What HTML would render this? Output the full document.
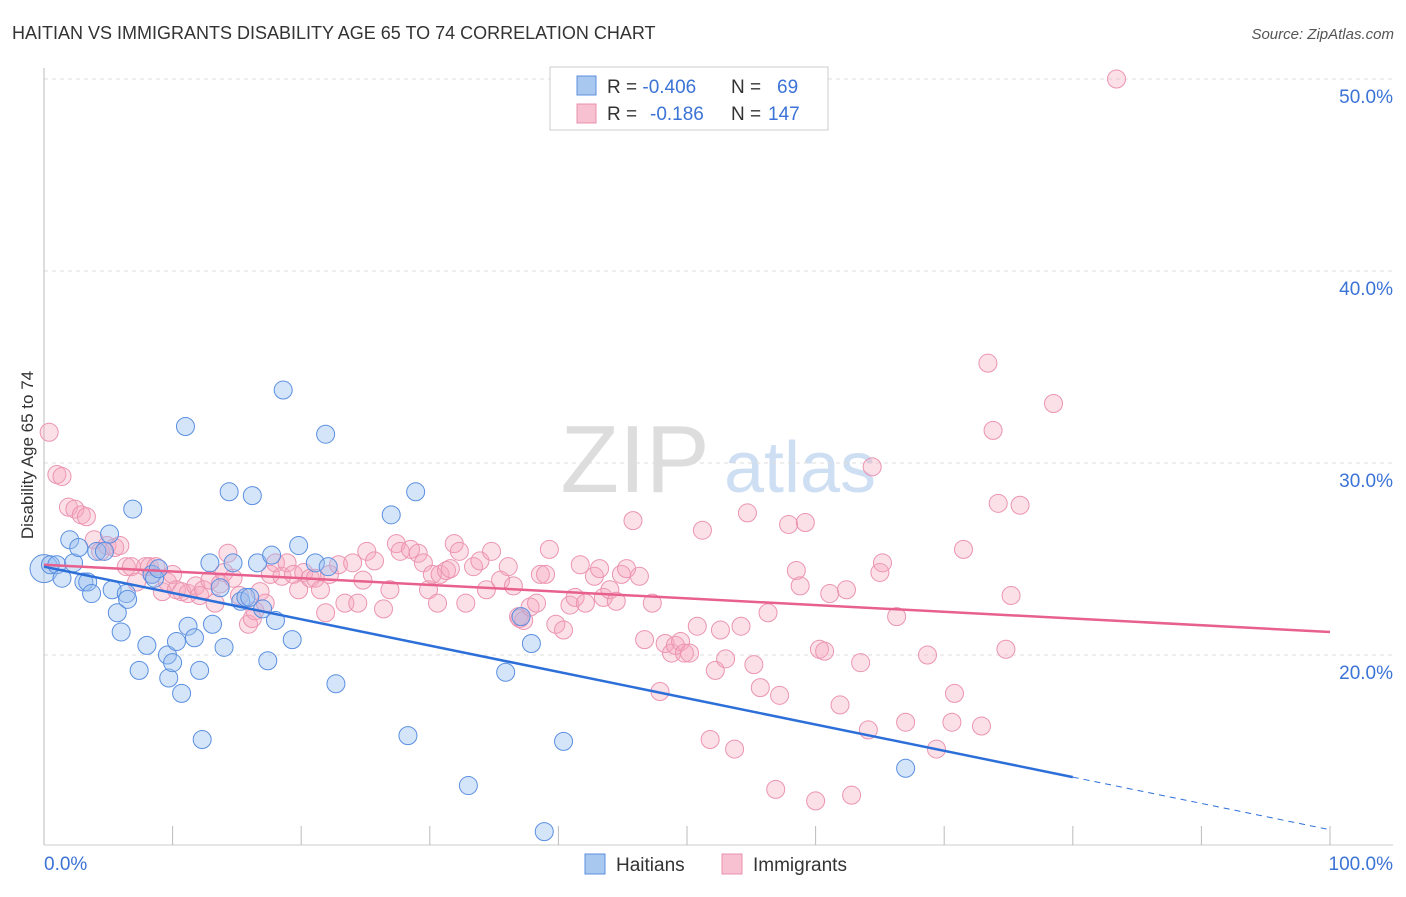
<!DOCTYPE html>
<html><head><meta charset="utf-8"><style>
body{margin:0;background:#fff;font-family:"Liberation Sans",sans-serif;}
svg text{font-family:"Liberation Sans",sans-serif;}
</style></head><body>
<svg id="chart" width="1406" height="892" xmlns="http://www.w3.org/2000/svg">
<text x="12" y="39" font-size="18" fill="#333">HAITIAN VS IMMIGRANTS DISABILITY AGE 65 TO 74 CORRELATION CHART</text>
<text x="1394" y="39" font-size="15" fill="#555" text-anchor="end" font-style="italic">Source: ZipAtlas.com</text>
<text transform="translate(33,455) rotate(-90)" font-size="17" fill="#333" text-anchor="middle">Disability Age 65 to 74</text>
<g><text x="635" y="492" font-size="96" fill="#ddd" font-family="Liberation Serif" text-anchor="middle">ZIP</text><text x="800" y="492" font-size="72" fill="#cfdff3" text-anchor="middle">atlas</text></g>
<g id="grid"></g><g id="axes"></g><g id="pts"></g><g id="trend"></g>
<g>
<rect x="550" y="67" width="278" height="63" fill="#fff" stroke="#ccc"/>
<rect x="577" y="76" width="19" height="19" fill="#a9c8f0" stroke="#5b8fe0"/>
<rect x="577" y="104" width="19" height="19" fill="#f7c1d2" stroke="#e890ac"/>
<text x="607" y="93" font-size="19" fill="#333">R = <tspan fill="#3b73d6">-0.406</tspan><tspan x="731">N = </tspan><tspan x="777" fill="#3b73d6">69</tspan></text>
<text x="607" y="120" font-size="19" fill="#333">R = <tspan x="650" fill="#3b73d6">-0.186</tspan><tspan x="731">N = </tspan><tspan x="768" fill="#3b73d6">147</tspan></text>
</g>
<g>
<rect x="585" y="854" width="20" height="20" fill="#a9c8f0" stroke="#5b8fe0"/>
<text x="616" y="871" font-size="19" fill="#333">Haitians</text>
<rect x="722" y="854" width="20" height="20" fill="#f7c1d2" stroke="#e890ac"/>
<text x="753" y="871" font-size="19" fill="#333">Immigrants</text>
</g>
</svg>
<script>
const yTicks=[20,30,40,50];
const yTickLabels=["20.0%","30.0%","40.0%","50.0%"];
const xTickVals=[0,10,20,30,40,50,60,70,80,90,100];
const xLabels=["0.0%","100.0%"];
const haitiansX=[0,0.5,1.0,1.4,2.0,2.3,2.7,3.1,3.4,3.7,4.1,4.7,5.1,5.3,5.7,6.0,6.4,6.5,6.9,7.4,8.0,8.4,8.6,8.9,9.6,9.7,10.0,10.3,10.7,11.0,11.2,11.7,12.1,12.3,12.9,13.1,13.7,14.0,14.4,14.7,15.3,15.7,16.0,16.2,16.6,17.0,17.4,17.7,18.0,18.6,19.3,19.8,21.1,21.9,22.1,22.7,27.0,28.3,28.9,33.0,35.9,37.1,37.9,38.9,40.4,67.0];
const haitiansY=[24.5,24.7,24.7,24.0,26.0,24.8,25.6,23.8,23.8,23.2,25.4,25.4,26.3,23.4,22.2,21.2,23.2,22.9,27.6,19.2,20.5,24.2,24.0,24.5,20.0,18.8,19.6,20.7,18.0,31.9,21.5,20.9,19.2,15.6,24.8,21.6,23.5,20.4,28.5,24.8,22.8,23.0,23.0,28.3,24.8,22.4,19.7,25.2,21.8,33.8,20.8,25.7,24.8,31.5,24.6,18.5,27.3,15.8,28.5,13.2,19.1,22.0,20.6,10.8,15.5,14.1];
const immigrantsX=[0.4,1.0,1.4,1.9,2.4,2.9,3.3,3.9,4.4,4.9,5.5,5.9,6.4,6.8,7.2,7.9,8.2,8.4,8.7,9.2,9.6,10.0,10.3,10.7,11.2,11.8,12.1,12.4,12.9,13.3,13.7,14.0,14.3,14.7,15.2,15.9,16.2,16.4,16.8,17.2,17.6,18.0,18.5,18.9,19.4,19.8,20.2,20.7,21.1,21.5,21.9,22.2,22.9,23.4,24.0,24.4,24.8,25.1,25.7,26.4,26.9,27.4,27.7,28.5,29.1,29.5,29.9,30.2,30.6,30.8,31.3,31.6,31.9,32.3,32.8,33.4,33.9,34.4,34.8,35.5,36.1,36.5,36.9,37.0,37.3,37.8,38.3,38.6,39.0,39.3,39.8,40.4,40.9,41.3,41.7,42.1,42.8,43.2,43.5,44.0,44.5,44.9,45.3,45.8,46.3,46.7,47.3,47.9,48.3,48.8,49.1,49.5,49.8,50.2,50.8,51.2,51.8,52.2,52.6,53.0,53.7,54.2,54.7,55.2,55.7,56.3,56.9,57.2,57.9,58.5,58.8,59.2,60.0,60.3,60.7,61.1,61.9,62.4,62.8,63.5,64.1,64.4,65.0,65.2,66.3,67.0,68.7,69.4,70.6,70.8,71.5,72.9,73.4,73.8,74.2,74.8,75.2,75.9,78.5,83.4];
const immigrantsY=[31.6,29.4,29.3,27.7,27.6,27.3,27.2,26.0,25.4,25.7,25.6,25.7,24.6,24.6,23.8,24.6,24.6,24.2,24.6,23.3,23.8,24.2,23.4,23.3,23.2,23.6,23.1,23.4,23.9,22.7,23.7,24.3,25.3,24.0,23.1,21.6,21.9,22.3,23.3,22.7,24.2,24.8,24.1,24.8,24.2,23.4,24.3,24.0,24.0,23.4,22.2,24.2,24.7,22.7,24.8,22.7,23.9,25.4,24.9,22.4,23.4,25.8,25.4,25.5,25.3,24.8,23.4,24.2,22.7,24.2,24.4,24.5,25.8,25.4,22.7,24.6,24.9,23.4,25.4,23.9,24.6,23.6,22.0,21.9,21.8,22.5,22.7,24.2,24.2,25.5,21.6,21.3,22.6,23.0,24.7,22.7,24.1,24.5,23.0,23.4,22.8,24.2,24.5,27.0,24.1,20.8,22.7,18.1,20.6,20.1,20.5,20.7,20.1,20.1,21.5,26.5,15.6,19.2,21.3,19.8,15.1,21.5,27.4,19.5,18.3,22.2,13.0,17.9,26.8,24.4,23.6,26.9,12.4,20.3,20.2,23.2,17.4,23.4,12.7,19.6,16.1,29.8,24.3,24.8,22.0,16.5,20.0,15.1,16.5,18.0,25.5,16.3,35.2,31.7,27.9,20.3,23.1,27.8,33.1,50.0];
const haitiansTrend=[24.6,10.9];   // value at x=0 and x=100
const immigrantsTrend=[24.7,21.2];
const haitiansSolidEnd=80;

const NS="http://www.w3.org/2000/svg";
const X=v=>44+v*12.86;
const Y=v=>79+(50-v)*19.2;
function mk(tag,attrs,parent){const e=document.createElementNS(NS,tag);for(const k in attrs)e.setAttribute(k,attrs[k]);document.getElementById(parent).appendChild(e);return e;}

yTicks.forEach((t,i)=>{
  const l=mk('line',{x1:44,x2:1393,y1:Y(t),y2:Y(t),stroke:'#ddd','stroke-dasharray':'4,4'},'grid');
  
  
  const tx=mk('text',{x:1393,y:Y(t)+24,'font-size':19,fill:'#3b73d6','text-anchor':'end'},'grid');
  tx.textContent=yTickLabels[i];
  
  
});
const ax=mk('line',{x1:44,x2:44,y1:68,y2:845,stroke:'#bbb'},'axes');


const bx=mk('line',{x1:44,x2:1393,y1:845,y2:845,stroke:'#ccc'},'axes');


xTickVals.forEach(v=>{
  const t=mk('line',{x1:X(v),x2:X(v),y1:826,y2:845,stroke:'#bbb'},'axes');
  
  
});
const xl0=mk('text',{x:44,y:870,'font-size':19,fill:'#3b73d6'},'axes');
xl0.textContent=xLabels[0];


const xl1=mk('text',{x:1393,y:870,'font-size':19,fill:'#3b73d6','text-anchor':'end'},'axes');
xl1.textContent=xLabels[1];



immigrantsX.forEach((x,i)=>{
  const c=mk('circle',{cx:X(x),cy:Y(immigrantsY[i]),r:9,fill:'rgba(245,165,190,0.35)',stroke:'#eb94b1','stroke-width':1},'pts');
  
  
});
haitiansX.forEach((x,i)=>{
  const c=mk('circle',{cx:X(x),cy:Y(haitiansY[i]),r:i===0?14:9,fill:'rgba(150,190,240,0.4)',stroke:'#5b8fe0','stroke-width':1},'pts');
  
  
});
const hy=x=>haitiansTrend[0]+(haitiansTrend[1]-haitiansTrend[0])*x/100;
const iy=x=>immigrantsTrend[0]+(immigrantsTrend[1]-immigrantsTrend[0])*x/100;
const t1=mk('line',{x1:X(0),y1:Y(iy(0)),x2:X(100),y2:Y(iy(100)),stroke:'#e8608e','stroke-width':2.5},'trend');


const t2=mk('line',{x1:X(0),y1:Y(hy(0)),x2:X(haitiansSolidEnd),y2:Y(hy(haitiansSolidEnd)),stroke:'#2d6fd8','stroke-width':2.5},'trend');


const t3=mk('line',{x1:X(haitiansSolidEnd),y1:Y(hy(haitiansSolidEnd)),x2:X(100),y2:Y(hy(100)),stroke:'#2d6fd8','stroke-width':1,'stroke-dasharray':'6,5'},'trend');


</script>
</body></html>
